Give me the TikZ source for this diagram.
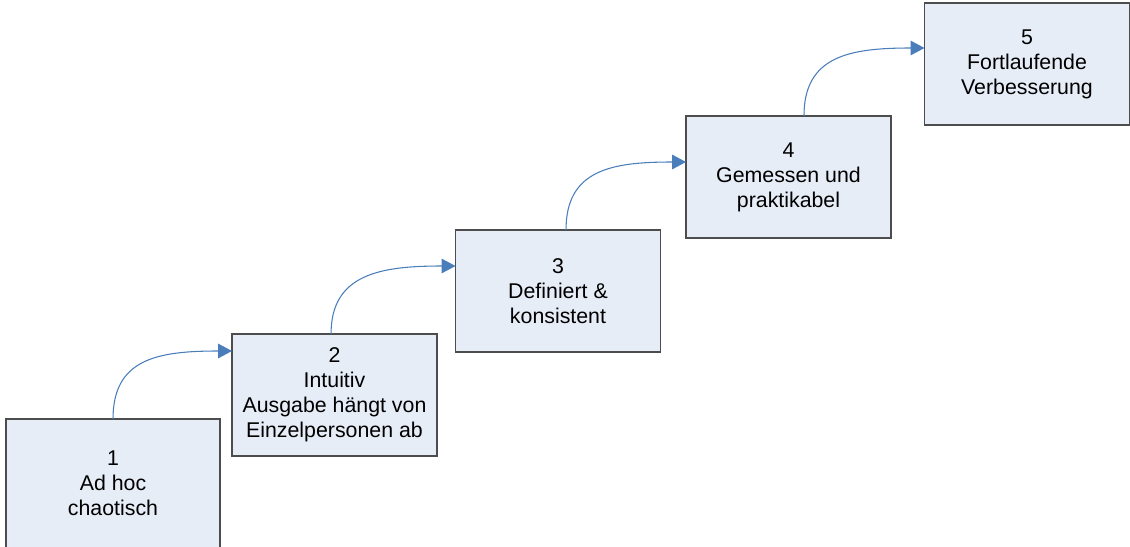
\documentclass[tikz,border=0pt]{standalone}
\usepackage{fontspec}
\setmainfont{Liberation Sans}
\usetikzlibrary{arrows.meta}
\definecolor{boxfill}{HTML}{E7EDF7}
\definecolor{boxline}{HTML}{4D4D4D}
\definecolor{flow}{HTML}{4A7EBB}
\begin{document}
\begin{tikzpicture}[x=0.75pt,y=0.75pt,
  stage/.style={draw=boxline,fill=boxfill,line width=0.9pt,inner sep=0pt,outer sep=0pt,
    minimum width=153.75pt,minimum height=91.5pt,align=center,
    font=\fontsize{16pt}{18.75pt}\selectfont},
  stepup/.style={draw=flow,line width=0.8pt,-{Triangle[length=10.5pt,width=11pt]}}]
\useasboundingbox (0,0) rectangle (1130,-546);
% the five stages, rising from left to right
\node[stage,minimum width=160.5pt,minimum height=96.75pt] (b1) at (113,-483.5) {1\\Ad hoc\\chaotisch};
\node[stage] (b2) at (334.5,-395) {2\\Intuitiv\\Ausgabe hängt von\\Einzelpersonen ab};
\node[stage] (b3) at (558,-291) {3\\Definiert \&\\konsistent};
\node[stage] (b4) at (788.5,-177) {4\\Gemessen und\\praktikabel};
\node[stage] (b5) at (1027,-64) {5\\Fortlaufende\\Verbesserung};
% curved arrows from the top of each stage to the next one
\draw[stepup] (b1.north) .. controls +(0,60) and +(-75,0) .. ([yshift=-12.75pt]b2.north west);
\draw[stepup] ([xshift=-2.6pt]b2.north) .. controls +(0,60) and +(-75,0) .. ([yshift=-27pt]b3.north west);
\draw[stepup] ([xshift=6pt]b3.north) .. controls +(0,60) and +(-75,0) .. ([yshift=-34.5pt]b4.north west);
\draw[stepup] ([xshift=11.6pt]b4.north) .. controls +(0,60) and +(-75,0) .. ([yshift=-33.75pt]b5.north west);
\end{tikzpicture}
\end{document}
